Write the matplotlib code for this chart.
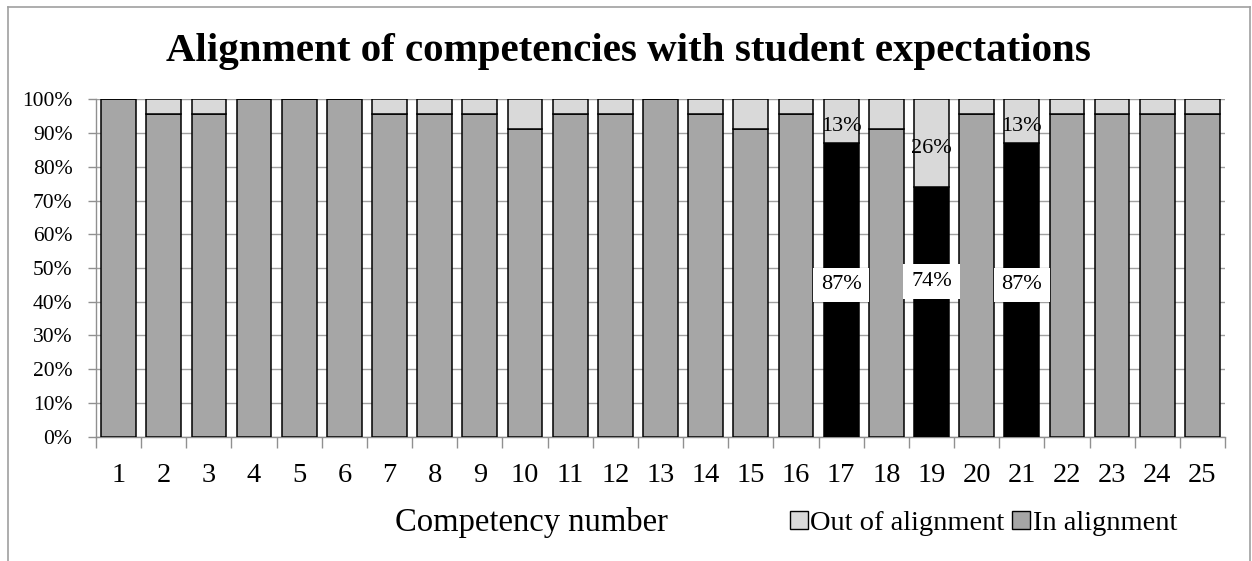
import matplotlib
matplotlib.use("Agg")
import matplotlib.pyplot as plt
from matplotlib.lines import Line2D
import numpy as np

plt.rcParams['font.family'] = ['Liberation Serif', 'DejaVu Serif']

# ---- data ----
competencies = [str(i) for i in range(1, 26)]
in_alignment = [100, 95.7, 95.7, 100, 100, 100, 95.7, 95.7, 95.7, 91.3,
                95.7, 95.7, 100, 95.7, 91.3, 95.7, 87.0, 91.3, 73.9, 95.7,
                87.0, 95.7, 95.7, 95.7, 95.7]
out_alignment = [100 - v for v in in_alignment]
highlighted = [17, 19, 21]
in_labels = ['87%', '74%', '87%']
out_labels = ['13%', '26%', '13%']
in_label_y = [45, 46, 45]          # label positions (percent axis)
yticks = list(range(0, 101, 10))
ytick_labels = [f'{t}%' for t in yticks]

title = 'Alignment of competencies with student expectations'
xlabel = 'Competency number'
series_names = ['Out of alignment', 'In alignment']

# ---- style ----
c_in = '#A6A6A6'
c_out = '#D9D9D9'
c_hi = '#000000'
c_grid = '#A0A0A0'
c_axis = '#909090'

W, H = 1252, 561
fig = plt.figure(figsize=(W / 100, H / 100), dpi=100)
fig.patch.set_facecolor('white')

ax = fig.add_axes([96 / W, 1 - 436.7 / H, (1225 - 96) / W, (436.7 - 99.3) / H])

x = np.arange(len(competencies))
in_colors = [c_hi if int(c) in highlighted else c_in for c in competencies]
bw = 0.77
ax.bar(x, in_alignment, width=bw, color=in_colors, edgecolor='black', linewidth=1.1, zorder=3)
ax.bar(x, out_alignment, bottom=in_alignment, width=bw, color=c_out, edgecolor='black',
       linewidth=1.1, zorder=3)

ax.set_xlim(-0.5, len(competencies) - 0.5)
ax.set_ylim(0, 100)
ax.set_yticks(yticks)
ax.set_yticklabels(ytick_labels, fontsize=15.5)
ax.set_xticks(x)
ax.set_xticklabels(competencies, fontsize=20.5)
ax.set_xticks(np.arange(-0.5, len(competencies)), minor=True)
ax.tick_params(axis='x', which='major', length=0, pad=19)
ax.tick_params(axis='x', which='minor', length=8, width=1, color=c_axis, direction='out')
ax.tick_params(axis='y', length=6, width=1, color=c_axis, direction='out', pad=11)

ax.yaxis.grid(True, color=c_grid, linewidth=1.0, zorder=0)
ax.set_axisbelow(True)
for s in ['top', 'right']:
    ax.spines[s].set_visible(False)
for s in ['left', 'bottom']:
    ax.spines[s].set_color(c_axis)
    ax.spines[s].set_linewidth(1.0)

# data labels
for k, comp in enumerate(highlighted):
    i = comp - 1
    ax.text(x[i], in_label_y[k], in_labels[k], ha='center', va='center', fontsize=16, zorder=5,
            bbox=dict(facecolor='white', edgecolor='none', boxstyle='square,pad=0.35'))
    ax.text(x[i], in_alignment[i] + out_alignment[i] / 2 - 1.5, out_labels[k], ha='center',
            va='center', fontsize=16, zorder=5)

fig.text(628 / W, 1 - 52 / H, title, ha='center', va='center',
         fontsize=29.5, fontweight='bold')
fig.text(531 / W, 1 - 523 / H, xlabel, ha='center', va='center', fontsize=23.5)

handles = [Line2D([], [], marker='s', linestyle='none', markersize=13, markerfacecolor=c_out,
                  markeredgecolor='black', markeredgewidth=1.0),
           Line2D([], [], marker='s', linestyle='none', markersize=13, markerfacecolor=c_in,
                  markeredgecolor='black', markeredgewidth=1.0)]
fig.legend(handles, series_names, loc='center left', bbox_to_anchor=(790 / W, 1 - 523 / H),
           ncol=2, frameon=False, fontsize=20.5, handlelength=0.6, handletextpad=0.1,
           columnspacing=0.3, borderaxespad=0, borderpad=0)

# outer chart border (bottom edge is cut off in the reference)
for xs, ys in [([8, 8], [561, 7]), ([8, 1250], [7, 7]), ([1250, 1250], [7, 561])]:
    fig.add_artist(Line2D([v / W for v in xs], [1 - v / H for v in ys], color='#A0A0A0',
                          linewidth=1.2, transform=fig.transFigure))

fig.savefig('out.png', dpi=100)
